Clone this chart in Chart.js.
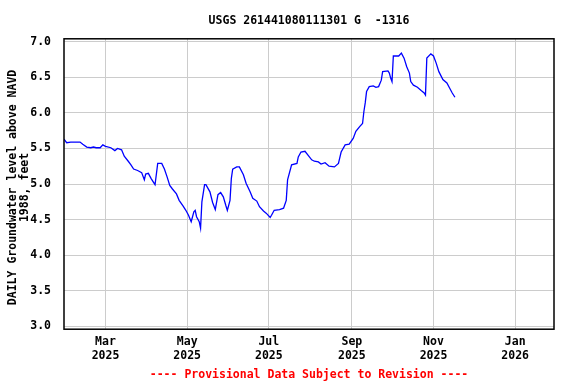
<!DOCTYPE html>
<html>
<head>
<meta charset="utf-8">
<script src="https://cdn.jsdelivr.net/npm/chart.js@4"></script>
<style>
  html, body { margin: 0; padding: 0; background: #ffffff; }
  #wrap { width: 576px; height: 384px; }
</style>
</head>
<body>
<div id="wrap"><canvas id="c" width="576" height="384"></canvas></div>
<script>
const chartTitle = 'USGS 261441080111301 G  -1316';
const footerText = '---- Provisional Data Subject to Revision ----';
const yAxisTitle = ['DAILY Groundwater level above NAVD ', '1988, feet '];

const dates = [
  '2025-01-29','2025-01-31','2025-02-03','2025-02-10','2025-02-12','2025-02-15','2025-02-18','2025-02-20',
  '2025-02-22','2025-02-25','2025-02-27','2025-03-01','2025-03-05','2025-03-08','2025-03-10','2025-03-13',
  '2025-03-15','2025-03-18','2025-03-20','2025-03-22','2025-03-25','2025-03-28','2025-03-30','2025-03-31',
  '2025-04-02','2025-04-04','2025-04-06','2025-04-07','2025-04-09','2025-04-12','2025-04-14','2025-04-16',
  '2025-04-18','2025-04-20','2025-04-23','2025-04-25','2025-04-28','2025-04-30','2025-05-02','2025-05-04',
  '2025-05-06','2025-05-07','2025-05-08','2025-05-10','2025-05-11','2025-05-12','2025-05-14','2025-05-15',
  '2025-05-18','2025-05-20','2025-05-22','2025-05-24','2025-05-26','2025-05-28','2025-05-30','2025-05-31',
  '2025-06-02','2025-06-03','2025-06-04','2025-06-07','2025-06-09','2025-06-12','2025-06-14','2025-06-17',
  '2025-06-19','2025-06-22','2025-06-24','2025-06-27','2025-06-29','2025-07-02','2025-07-03','2025-07-05',
  '2025-07-09','2025-07-12','2025-07-14','2025-07-15','2025-07-18','2025-07-22','2025-07-23','2025-07-25',
  '2025-07-28','2025-08-02','2025-08-04','2025-08-07','2025-08-09','2025-08-12','2025-08-15','2025-08-19',
  '2025-08-22','2025-08-24','2025-08-27','2025-08-30','2025-09-02','2025-09-04','2025-09-07','2025-09-09',
  '2025-09-10','2025-09-11','2025-09-12','2025-09-14','2025-09-17','2025-09-19','2025-09-21','2025-09-23',
  '2025-09-24','2025-09-28','2025-09-29','2025-09-30','2025-10-01','2025-10-02','2025-10-06','2025-10-08',
  '2025-10-10','2025-10-12','2025-10-14','2025-10-15','2025-10-17','2025-10-20','2025-10-23','2025-10-25',
  '2025-10-26','2025-10-27','2025-10-30','2025-11-01','2025-11-03','2025-11-05','2025-11-08','2025-11-11',
  '2025-11-13','2025-11-15','2025-11-17'
];
const levels = [
  5.63,5.58,5.59,5.59,5.56,5.52,5.51,5.52,
  5.51,5.51,5.55,5.53,5.51,5.47,5.50,5.48,
  5.39,5.32,5.27,5.21,5.19,5.16,5.06,5.14,
  5.15,5.08,5.02,4.99,5.29,5.29,5.21,5.10,
  4.98,4.93,4.86,4.77,4.69,4.63,4.56,4.47,
  4.61,4.63,4.54,4.47,4.38,4.75,4.99,4.99,
  4.89,4.74,4.64,4.85,4.88,4.82,4.69,4.63,
  4.77,5.08,5.21,5.24,5.24,5.13,5.01,4.89,
  4.80,4.76,4.68,4.62,4.59,4.53,4.56,4.63,
  4.64,4.66,4.77,5.06,5.27,5.29,5.38,5.45,
  5.46,5.34,5.32,5.31,5.28,5.30,5.25,5.24,
  5.29,5.45,5.55,5.56,5.64,5.74,5.81,5.85,
  6.02,6.14,6.30,6.37,6.38,6.36,6.37,6.46,
  6.58,6.59,6.56,6.49,6.44,6.80,6.80,6.84,
  6.77,6.65,6.56,6.44,6.39,6.36,6.31,6.28,
  6.25,6.77,6.83,6.80,6.70,6.58,6.47,6.42,
  6.35,6.28,6.22
];
const xTickDates = ['2025-03-01','2025-05-01','2025-07-01','2025-09-01','2025-11-01','2026-01-01'];
const xTickLabels = [['Mar','2025'],['May','2025'],['Jul','2025'],['Sep','2025'],['Nov','2025'],['Jan','2026']];
const yTicks = [3.0, 3.5, 4.0, 4.5, 5.0, 5.5, 6.0, 6.5, 7.0];
const xRange = ['2025-01-29', '2026-01-30'];
const yRange = [2.958, 7.042];

const toMs = s => Date.parse(s + 'T00:00:00Z');
const points = dates.map((d, i) => ({ x: toMs(d), y: levels[i] }));
const xTickMs = xTickDates.map(toMs);

const FONT = { family: '"DejaVu Sans Mono", monospace', size: 11.5, weight: 'bold', lineHeight: 1.2 };

const framePlugin = {
  id: 'frame',
  afterDatasetsDraw(chart) {
    const { ctx, chartArea: a } = chart;
    ctx.save();
    ctx.strokeStyle = '#000000';
    ctx.lineWidth = 1.5;
    ctx.strokeRect(a.left, a.top, a.right - a.left, a.bottom - a.top);
    ctx.restore();
  }
};

new Chart(document.getElementById('c'), {
  type: 'line',
  data: {
    datasets: [{
      data: points,
      borderColor: '#0000ff',
      borderWidth: 1.3,
      pointRadius: 0,
      tension: 0,
      fill: false
    }]
  },
  options: {
    responsive: false,
    animation: false,
    events: [],
    layout: { padding: { left: 0, right: 22, top: 0, bottom: 0 } },
    plugins: {
      legend: { display: false },
      tooltip: { enabled: false },
      title: {
        display: true, text: chartTitle, fullSize: false, color: '#000000',
        font: FONT, padding: { top: 14, bottom: 11 }
      },
      subtitle: {
        display: true, text: footerText, position: 'bottom', fullSize: false, color: '#ff0000',
        font: FONT, padding: { top: 3, bottom: 2 }
      }
    },
    scales: {
      x: {
        type: 'linear',
        min: toMs(xRange[0]), max: toMs(xRange[1]),
        afterBuildTicks: s => { s.ticks = xTickMs.map(v => ({ value: v })); },
        afterFit: s => { s.height = 36; },
        grid: { color: '#cccccc', lineWidth: 1, drawTicks: false },
        border: { display: false },
        ticks: {
          autoSkip: false, maxRotation: 0, padding: 6, color: '#000000', font: FONT,
          callback: (v) => { const i = xTickMs.indexOf(v); return i >= 0 ? xTickLabels[i] : ''; }
        }
      },
      y: {
        type: 'linear',
        min: yRange[0], max: yRange[1],
        afterBuildTicks: s => { s.ticks = yTicks.map(v => ({ value: v })); },
        afterFit: s => { s.width = 64; },
        grid: { color: '#cccccc', lineWidth: 1, drawTicks: false },
        border: { display: false },
        ticks: {
          padding: 13, color: '#000000', font: FONT,
          callback: v => v.toFixed(1)
        },
        title: {
          display: true, text: yAxisTitle, color: '#000000',
          font: { family: '"DejaVu Sans Mono", monospace', size: 11.5, weight: 'bold', lineHeight: 1.05 },
          padding: { top: 7, bottom: 0 }
        }
      }
    }
  },
  plugins: [framePlugin]
});
</script>
</body>
</html>
